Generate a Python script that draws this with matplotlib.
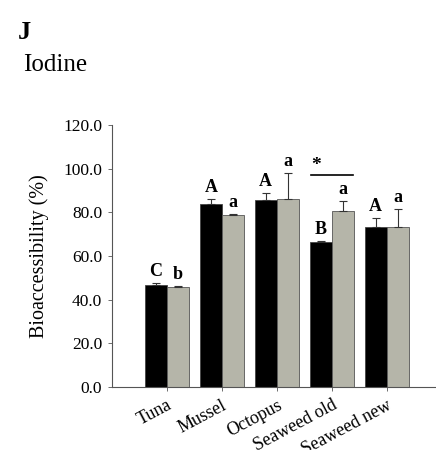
from matplotlib import pyplot as pl
import numpy as np

categories = ['Tuna', 'Mussel', 'Octopus', 'Seaweed old', 'Seaweed new']
black_vals = [46.7, 83.7, 85.5, 66.3, 73.4]
black_err = [1.1, 2.4, 3.5, 0.6, 3.9]
grey_vals = [45.9, 78.8, 86.3, 80.8, 73.2]
grey_err = [0.6, 0.4, 11.9, 4.3, 8.5]
black_letters = ['C', 'A', 'A', 'B', 'A']
grey_letters = ['b', 'a', 'a', 'a', 'a']
yticks = [0, 20, 40, 60, 80, 100, 120]

pl.rcParams['font.family'] = ['Liberation Serif', 'DejaVu Serif']

fig = pl.figure(figsize=(4.36, 4.5), dpi=100)
ax = fig.add_axes([0.257, 0.14, 0.743, 0.582])

x = np.arange(len(categories))
w = 0.4

ax.bar(x - w/2, black_vals, w, color='black', edgecolor='#444444', linewidth=0.6)
ax.bar(x + w/2, grey_vals, w, color='#b5b5a9', edgecolor='#555555', linewidth=0.6)
ax.errorbar(x - w/2, black_vals, yerr=[np.zeros(5), black_err], fmt='none',
            ecolor='#333333', elinewidth=0.8, capsize=3, capthick=0.8)
ax.errorbar(x + w/2, grey_vals, yerr=[np.zeros(5), grey_err], fmt='none',
            ecolor='#333333', elinewidth=0.8, capsize=3, capthick=0.8)

for i in range(len(categories)):
    ax.text(x[i] - w/2, black_vals[i] + black_err[i] + 1.3, black_letters[i],
            ha='center', va='bottom', fontsize=13, fontweight='bold')
    ax.text(x[i] + w/2, grey_vals[i] + grey_err[i] + 1.3, grey_letters[i],
            ha='center', va='bottom', fontsize=13, fontweight='bold')

# significance bar over Seaweed old
ax.plot([2.62, 3.38], [97.1, 97.1], color='black', lw=1.2)
ax.text(2.72, 97.5, '*', ha='center', va='bottom', fontsize=14, fontweight='bold')

ax.set_xlim(-1.0, 4.9)
ax.set_ylim(0, 120)
ax.set_yticks(yticks)
ax.set_yticklabels(['%.1f' % v for v in yticks], fontsize=12.5)
ax.set_xticks(x)
ax.set_xticklabels(categories, rotation=28, ha='right', rotation_mode='anchor', fontsize=13)
ax.tick_params(axis='both', direction='out', length=3, width=0.6, color='#555555')
ax.tick_params(axis='y', pad=4)
ax.tick_params(axis='x', pad=4)
ax.set_ylabel('Bioaccessibility (%)', fontsize=14.5, labelpad=10)

ax.spines['top'].set_visible(False)
ax.spines['right'].set_visible(False)
for s in ['left', 'bottom']:
    ax.spines[s].set_color('#555555')
    ax.spines[s].set_linewidth(0.8)

fig.text(0.040, 0.913, 'J', fontsize=19, fontweight='bold')
fig.text(0.052, 0.842, 'Iodine', fontsize=18)

fig.savefig('out.png', dpi=100)
